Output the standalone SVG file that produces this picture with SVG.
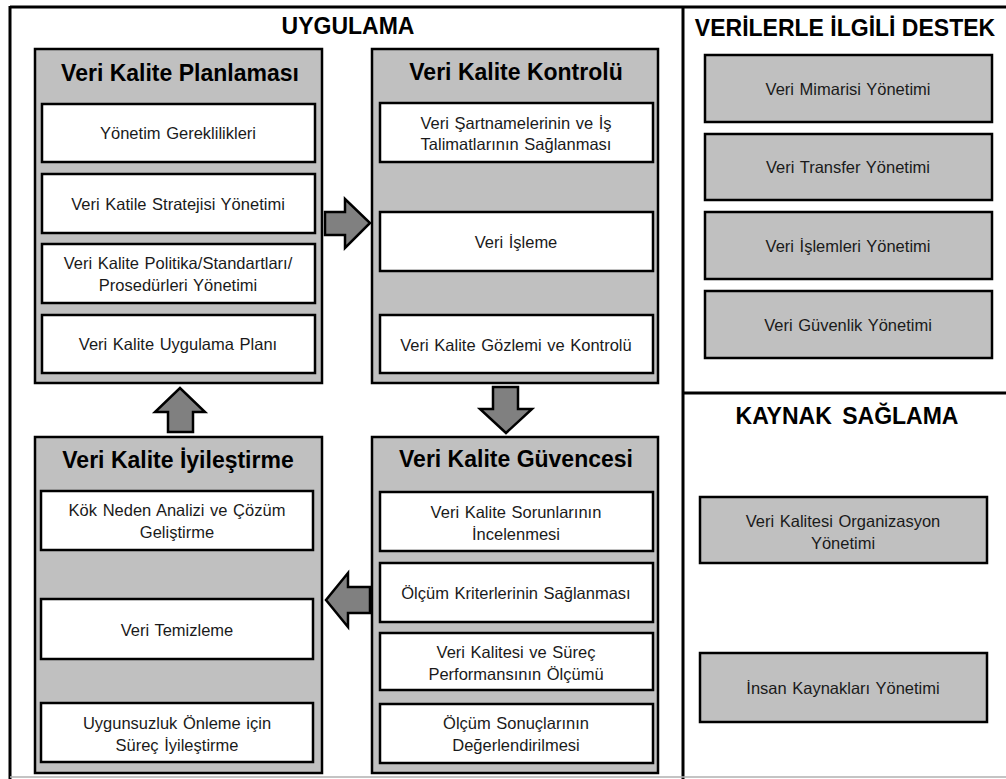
<svg xmlns="http://www.w3.org/2000/svg" width="1006" height="779" viewBox="0 0 1006 779">
  <style>
    .frame { fill: none; stroke: #000; stroke-width: 3; }
    .panel { fill: #c0c0c0; stroke: #000; stroke-width: 2.5; }
    .item { fill: #fff; stroke: #000; stroke-width: 2.5; }
    .gbox { fill: #c0c0c0; stroke: #000; stroke-width: 2.5; }
    .arrow { fill: #808080; stroke: #000; stroke-width: 2.5; stroke-linejoin: miter; }
    .head { font-family: "Liberation Sans", Arial, sans-serif; font-weight: bold; font-size: 23px; fill: #000; text-anchor: middle; }
    .ptitle { font-family: "Liberation Sans", Arial, sans-serif; font-weight: bold; font-size: 23px; fill: #000; text-anchor: middle; }
    .txt { font-family: "Liberation Sans", Arial, sans-serif; font-size: 16.5px; fill: #1a1a1a; text-anchor: middle; word-spacing: 1px; }
  </style>

  <rect width="1006" height="779" fill="#fff"/>

  <!-- outer frame and section dividers -->
  <g id="frame">
    <line class="frame" x1="10" y1="7" x2="1006" y2="7"/>
    <line class="frame" x1="10" y1="6" x2="10" y2="779"/>
    <line class="frame" x1="683" y1="6" x2="683" y2="779"/>
    <line class="frame" x1="683" y1="393" x2="1006" y2="393"/>
    <line x1="10" y1="777" x2="1006" y2="777" stroke="#b0b0b0" stroke-width="1.5"/>
  </g>

  <text class="head" x="348" y="34">UYGULAMA</text>
  <text class="head" x="845" y="36">VERİLERLE İLGİLİ DESTEK</text>
  <text class="head" x="847" y="424" word-spacing="4">KAYNAK SAĞLAMA</text>

  <!-- Planning -->
  <g id="planlama">
    <rect class="panel" x="35" y="49" width="287" height="334"/>
    <text class="ptitle" x="180" y="81">Veri Kalite Planlaması</text>
    <rect class="item" x="42" y="104" width="273" height="58"/>
    <text class="txt" x="178" y="139">Yönetim Gereklilikleri</text>
    <rect class="item" x="42" y="174" width="273" height="59"/>
    <text class="txt" x="178" y="210">Veri Katile Stratejisi Yönetimi</text>
    <rect class="item" x="42" y="244" width="273" height="59"/>
    <text class="txt" x="178" y="269">Veri Kalite Politika/Standartları/</text>
    <text class="txt" x="178" y="291">Prosedürleri Yönetimi</text>
    <rect class="item" x="42" y="315" width="273" height="58"/>
    <text class="txt" x="178" y="350">Veri Kalite Uygulama Planı</text>
  </g>

  <!-- Control -->
  <g id="kontrol">
    <rect class="panel" x="372" y="49" width="286" height="334"/>
    <text class="ptitle" x="516" y="80">Veri Kalite Kontrolü</text>
    <rect class="item" x="380" y="103" width="273" height="59"/>
    <text class="txt" x="516" y="129">Veri Şartnamelerinin ve İş</text>
    <text class="txt" x="516" y="150">Talimatlarının Sağlanması</text>
    <rect class="item" x="380" y="212" width="273" height="59"/>
    <text class="txt" x="516" y="248">Veri İşleme</text>
    <rect class="item" x="380" y="315" width="273" height="58"/>
    <text class="txt" x="516" y="351">Veri Kalite Gözlemi ve Kontrolü</text>
  </g>

  <!-- Improvement -->
  <g id="iyilestirme">
    <rect class="panel" x="35" y="437" width="287" height="336"/>
    <text class="ptitle" x="178" y="468">Veri Kalite İyileştirme</text>
    <rect class="item" x="41" y="491" width="272" height="59"/>
    <text class="txt" x="177" y="516">Kök Neden Analizi ve Çözüm</text>
    <text class="txt" x="177" y="538">Geliştirme</text>
    <rect class="item" x="41" y="599" width="272" height="60"/>
    <text class="txt" x="177" y="636">Veri Temizleme</text>
    <rect class="item" x="41" y="703" width="272" height="59"/>
    <text class="txt" x="177" y="729">Uygunsuzluk Önleme için</text>
    <text class="txt" x="177" y="751">Süreç İyileştirme</text>
  </g>

  <!-- Assurance -->
  <g id="guvence">
    <rect class="panel" x="372" y="437" width="286" height="336"/>
    <text class="ptitle" x="516" y="467">Veri Kalite Güvencesi</text>
    <rect class="item" x="380" y="492" width="273" height="59"/>
    <text class="txt" x="516" y="518">Veri Kalite Sorunlarının</text>
    <text class="txt" x="516" y="540">İncelenmesi</text>
    <rect class="item" x="380" y="563" width="273" height="59"/>
    <text class="txt" x="516" y="599">Ölçüm Kriterlerinin Sağlanması</text>
    <rect class="item" x="380" y="633" width="273" height="57"/>
    <text class="txt" x="516" y="658">Veri Kalitesi ve Süreç</text>
    <text class="txt" x="516" y="680">Performansının Ölçümü</text>
    <rect class="item" x="380" y="704" width="273" height="59"/>
    <text class="txt" x="516" y="729">Ölçüm Sonuçlarının</text>
    <text class="txt" x="516" y="751">Değerlendirilmesi</text>
  </g>

  <!-- Data support -->
  <g id="mimari">
    <rect class="gbox" x="705" y="55" width="287" height="67"/>
    <text class="txt" x="848" y="95">Veri Mimarisi Yönetimi</text>
  </g>
  <g id="transfer">
    <rect class="gbox" x="705" y="134" width="287" height="66"/>
    <text class="txt" x="848" y="173">Veri Transfer Yönetimi</text>
  </g>
  <g id="islemler">
    <rect class="gbox" x="705" y="212" width="287" height="67"/>
    <text class="txt" x="848" y="252">Veri İşlemleri Yönetimi</text>
  </g>
  <g id="guvenlik">
    <rect class="gbox" x="705" y="291" width="287" height="67"/>
    <text class="txt" x="848" y="331">Veri Güvenlik Yönetimi</text>
  </g>

  <!-- Resourcing -->
  <g id="organizasyon">
    <rect class="gbox" x="700" y="497" width="287" height="66"/>
    <text class="txt" x="843" y="527">Veri Kalitesi Organizasyon</text>
    <text class="txt" x="843" y="549">Yönetimi</text>
  </g>
  <g id="insan">
    <rect class="gbox" x="700" y="653" width="287" height="69"/>
    <text class="txt" x="843" y="694">İnsan Kaynakları Yönetimi</text>
  </g>

  <!-- flow arrows between the four stages -->
  <g id="connectors">
    <polygon class="arrow" points="325,212 345,212 345,199 370,223 345,248 345,235 325,235"/>
    <polygon class="arrow" points="493,387 518,387 518,409 532,409 506,433 480,409 493,409"/>
    <polygon class="arrow" points="370,587 348,587 348,573 326,600 348,627 348,613 370,613"/>
    <polygon class="arrow" points="168,432 193,432 193,412 205,412 180,388 155,412 168,412"/>
  </g>
</svg>
